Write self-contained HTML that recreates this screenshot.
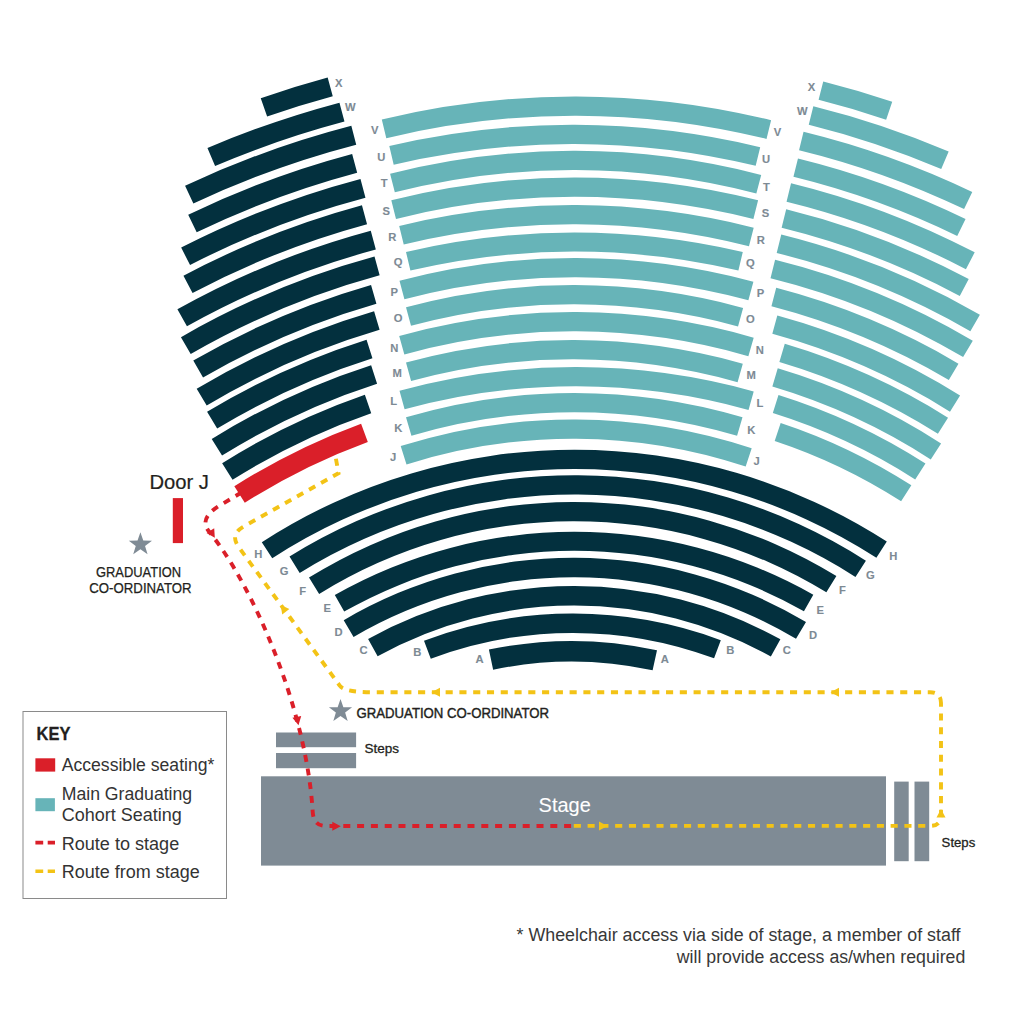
<!DOCTYPE html><html><head><meta charset="utf-8"><title>Seating plan</title><style>html,body{margin:0;padding:0;background:#fff;}svg{display:block;}text{font-family:"Liberation Sans",sans-serif;}</style></head><body><svg width="1024" height="1017" viewBox="0 0 1024 1017"><rect width="1024" height="1017" fill="#ffffff"/><path d="M381.80 119.50A821.35 821.35 0 0 1 771.10 120.30L766.51 138.94A802.15 802.15 0 0 0 386.31 138.16Z" fill="#67b4b8"/>
<path d="M389.30 146.00A799.68 799.68 0 0 1 760.20 147.20L755.69 165.86A780.48 780.48 0 0 0 393.69 164.69Z" fill="#67b4b8"/>
<path d="M390.10 173.70A744.34 744.34 0 0 1 761.20 174.90L756.35 193.48A725.14 725.14 0 0 0 394.83 192.31Z" fill="#67b4b8"/>
<path d="M391.30 200.30A749.02 749.02 0 0 1 758.10 200.30L753.40 218.92A729.82 729.82 0 0 0 396.00 218.92Z" fill="#67b4b8"/>
<path d="M399.20 225.90A734.97 734.97 0 0 1 753.70 227.70L748.98 246.31A715.77 715.77 0 0 0 403.74 244.56Z" fill="#67b4b8"/>
<path d="M406.00 251.90A736.88 736.88 0 0 1 742.80 251.90L738.41 270.59A717.68 717.68 0 0 0 410.39 270.59Z" fill="#67b4b8"/>
<path d="M399.50 280.80A685.05 685.05 0 0 1 753.40 281.70L748.39 300.24A665.85 665.85 0 0 0 404.41 299.36Z" fill="#67b4b8"/>
<path d="M406.00 307.30A642.54 642.54 0 0 1 743.10 307.90L738.03 326.42A623.34 623.34 0 0 0 411.00 325.84Z" fill="#67b4b8"/>
<path d="M399.20 335.90A648.50 648.50 0 0 1 753.70 337.70L748.36 356.14A629.30 629.30 0 0 0 404.35 354.40Z" fill="#67b4b8"/>
<path d="M406.00 362.50A627.94 627.94 0 0 1 742.80 363.70L737.59 382.18A608.74 608.74 0 0 0 411.08 381.01Z" fill="#67b4b8"/>
<path d="M399.50 390.80A662.78 662.78 0 0 1 753.70 391.40L748.54 409.89A643.58 643.58 0 0 0 404.60 409.31Z" fill="#67b4b8"/>
<path d="M406.00 417.30A594.61 594.61 0 0 1 742.50 417.30L737.07 435.72A575.41 575.41 0 0 0 411.43 435.72Z" fill="#67b4b8"/>
<path d="M400.70 446.10A569.96 569.96 0 0 1 751.70 448.30L745.67 466.53A550.76 550.76 0 0 0 406.50 464.40Z" fill="#67b4b8"/>
<path d="M261.80 542.20A575.69 575.69 0 0 1 886.80 541.60L876.39 557.73A556.49 556.49 0 0 0 272.24 558.31Z" fill="#03303e"/>
<path d="M289.50 556.60A539.47 539.47 0 0 1 865.90 560.70L855.47 576.94A520.17 520.17 0 0 0 299.69 572.99Z" fill="#03303e"/>
<path d="M309.00 577.60A502.24 502.24 0 0 1 836.40 576.00L826.37 592.37A483.04 483.04 0 0 0 319.13 593.91Z" fill="#03303e"/>
<path d="M334.80 595.10A485.12 485.12 0 0 1 813.30 594.70L803.94 611.24A466.12 466.12 0 0 0 344.18 611.62Z" fill="#03303e"/>
<path d="M343.70 620.20A453.71 453.71 0 0 1 806.00 622.00L796.00 638.74A434.21 434.21 0 0 0 353.57 637.02Z" fill="#03303e"/>
<path d="M368.10 639.00A425.67 425.67 0 0 1 780.40 639.30L770.85 656.53A405.97 405.97 0 0 0 377.63 656.24Z" fill="#03303e"/>
<path d="M424.00 640.70A423.52 423.52 0 0 1 720.80 640.20L714.07 658.29A404.22 404.22 0 0 0 430.79 658.77Z" fill="#03303e"/>
<path d="M488.90 649.60A401.11 401.11 0 0 1 657.00 650.20L652.61 670.33A380.51 380.51 0 0 0 493.14 669.76Z" fill="#03303e"/>
<path d="M260.74 98.16A1003.42 1003.42 0 0 1 327.66 77.51L332.75 96.34A983.92 983.92 0 0 0 267.13 116.58Z" fill="#03303e"/>
<path d="M207.45 148.01A976.08 976.08 0 0 1 339.46 102.65L344.46 121.50A956.58 956.58 0 0 0 215.09 165.95Z" fill="#03303e"/>
<path d="M185.07 185.81A950.73 950.73 0 0 1 351.33 125.75L356.22 144.63A931.23 931.23 0 0 0 193.37 203.46Z" fill="#03303e"/>
<path d="M188.21 214.82A923.20 923.20 0 0 1 352.15 154.00L357.17 172.84A903.70 903.70 0 0 0 196.69 232.37Z" fill="#03303e"/>
<path d="M181.16 247.60A896.98 896.98 0 0 1 360.48 178.91L365.47 197.76A877.48 877.48 0 0 0 190.05 264.96Z" fill="#03303e"/>
<path d="M183.45 275.65A871.04 871.04 0 0 1 361.95 205.37L367.05 224.20A851.54 851.54 0 0 0 192.55 292.90Z" fill="#03303e"/>
<path d="M177.41 309.36A844.30 844.30 0 0 1 370.77 230.69L375.83 249.52A824.80 824.80 0 0 0 186.94 326.37Z" fill="#03303e"/>
<path d="M180.96 337.13A818.41 818.41 0 0 1 374.51 256.50L379.64 275.32A798.91 798.91 0 0 0 190.70 354.02Z" fill="#03303e"/>
<path d="M193.28 360.58A791.93 791.93 0 0 1 371.05 284.96L376.43 303.71A772.43 772.43 0 0 0 203.04 377.46Z" fill="#03303e"/>
<path d="M196.69 388.72A765.95 765.95 0 0 1 374.09 311.14L379.59 329.85A746.45 746.45 0 0 0 206.70 405.46Z" fill="#03303e"/>
<path d="M207.08 411.81A740.81 740.81 0 0 1 366.57 339.71L372.44 358.31A721.31 721.31 0 0 0 217.16 428.50Z" fill="#03303e"/>
<path d="M211.73 439.03A715.17 715.17 0 0 1 371.13 365.17L377.09 383.74A695.67 695.67 0 0 0 222.04 455.58Z" fill="#03303e"/>
<path d="M222.14 463.29A689.08 689.08 0 0 1 364.86 394.75L371.22 413.19A669.58 669.58 0 0 0 232.55 479.78Z" fill="#03303e"/>
<path d="M234.33 486.31A663.11 663.11 0 0 1 361.09 423.66L367.82 441.97A643.61 643.61 0 0 0 244.79 502.77Z" fill="#da1f29"/>
<path d="M823.24 81.44A920.39 920.39 0 0 1 892.22 101.75L886.14 119.75A901.39 901.39 0 0 0 818.59 99.86Z" fill="#67b4b8"/>
<path d="M813.34 106.26A893.91 893.91 0 0 1 948.67 151.59L941.22 169.07A874.91 874.91 0 0 0 808.76 124.70Z" fill="#67b4b8"/>
<path d="M803.54 131.70A866.87 866.87 0 0 1 972.28 191.95L964.07 209.09A847.87 847.87 0 0 0 799.04 150.16Z" fill="#67b4b8"/>
<path d="M797.97 158.42A839.59 839.59 0 0 1 965.55 218.99L957.23 236.07A820.59 820.59 0 0 0 793.45 176.87Z" fill="#67b4b8"/>
<path d="M791.05 183.17A813.90 813.90 0 0 1 974.70 252.37L965.91 269.22A794.90 794.90 0 0 0 786.55 201.63Z" fill="#67b4b8"/>
<path d="M786.18 209.20A787.46 787.46 0 0 1 968.72 279.12L959.77 295.88A768.46 768.46 0 0 0 781.63 227.65Z" fill="#67b4b8"/>
<path d="M781.27 234.51A761.71 761.71 0 0 1 979.88 314.79L970.35 331.23A742.71 742.71 0 0 0 776.70 252.95Z" fill="#67b4b8"/>
<path d="M775.09 259.73A735.75 735.75 0 0 1 972.80 340.73L963.12 357.08A716.75 716.75 0 0 0 770.52 278.17Z" fill="#67b4b8"/>
<path d="M776.21 287.87A708.75 708.75 0 0 1 958.48 363.63L948.82 379.99A689.75 689.75 0 0 0 771.43 306.26Z" fill="#67b4b8"/>
<path d="M777.32 315.54A682.29 682.29 0 0 1 960.07 395.56L949.98 411.66A663.29 663.29 0 0 0 772.32 333.87Z" fill="#67b4b8"/>
<path d="M784.78 343.76A657.19 657.19 0 0 1 948.02 417.63L937.90 433.71A638.19 638.19 0 0 0 779.38 361.97Z" fill="#67b4b8"/>
<path d="M777.75 368.29A631.67 631.67 0 0 1 941.08 443.47L930.76 459.42A612.67 612.67 0 0 0 772.35 386.50Z" fill="#67b4b8"/>
<path d="M778.49 394.94A606.39 606.39 0 0 1 925.46 463.49L915.20 479.48A587.39 587.39 0 0 0 772.83 413.08Z" fill="#67b4b8"/>
<path d="M780.67 422.99A580.36 580.36 0 0 1 911.37 485.37L901.11 501.36A561.36 561.36 0 0 0 774.69 441.02Z" fill="#67b4b8"/>
<g font-family="Liberation Sans, sans-serif" font-weight="bold" font-size="10.2" fill="#7d8a94" stroke="#7d8a94" stroke-width="0.1" text-anchor="middle"><text transform="translate(374.7 133.6) scale(1.1 1)">V</text><text transform="translate(381.2 160.8) scale(1.1 1)">U</text><text transform="translate(384.2 187.0) scale(1.1 1)">T</text><text transform="translate(386.2 214.5) scale(1.1 1)">S</text><text transform="translate(392.2 240.9) scale(1.1 1)">R</text><text transform="translate(398.2 265.5) scale(1.1 1)">Q</text><text transform="translate(394.2 295.9) scale(1.1 1)">P</text><text transform="translate(398.2 321.9) scale(1.1 1)">O</text><text transform="translate(394.2 352.1) scale(1.1 1)">N</text><text transform="translate(397.2 377.2) scale(1.1 1)">M</text><text transform="translate(393.7 405.0) scale(1.1 1)">L</text><text transform="translate(398.2 431.9) scale(1.1 1)">K</text><text transform="translate(393.1 461.2) scale(1.1 1)">J</text><text transform="translate(777.5 135.6) scale(1.1 1)">V</text><text transform="translate(766.0 162.8) scale(1.1 1)">U</text><text transform="translate(766.5 190.9) scale(1.1 1)">T</text><text transform="translate(765.5 216.8) scale(1.1 1)">S</text><text transform="translate(760.8 243.9) scale(1.1 1)">R</text><text transform="translate(750.4 267.2) scale(1.1 1)">Q</text><text transform="translate(760.5 296.7) scale(1.1 1)">P</text><text transform="translate(750.3 322.7) scale(1.1 1)">O</text><text transform="translate(759.8 354.0) scale(1.1 1)">N</text><text transform="translate(751.2 379.0) scale(1.1 1)">M</text><text transform="translate(760.0 407.1) scale(1.1 1)">L</text><text transform="translate(751.2 433.9) scale(1.1 1)">K</text><text transform="translate(756.6 464.8) scale(1.1 1)">J</text><text transform="translate(338.7 86.5) scale(1.1 1)">X</text><text transform="translate(350.2 110.7) scale(1.1 1)">W</text><text transform="translate(811.5 90.6) scale(1.1 1)">X</text><text transform="translate(802.3 114.8) scale(1.1 1)">W</text><text transform="translate(258.2 557.8) scale(1.1 1)">H</text><text transform="translate(284.2 574.9) scale(1.1 1)">G</text><text transform="translate(302.8 594.9) scale(1.1 1)">F</text><text transform="translate(327.2 611.8) scale(1.1 1)">E</text><text transform="translate(338.6 636.0) scale(1.1 1)">D</text><text transform="translate(363.6 653.9) scale(1.1 1)">C</text><text transform="translate(417.4 655.7) scale(1.1 1)">B</text><text transform="translate(479.5 662.7) scale(1.1 1)">A</text><text transform="translate(664.8 663.1) scale(1.1 1)">A</text><text transform="translate(730.2 654.1) scale(1.1 1)">B</text><text transform="translate(786.7 654.1) scale(1.1 1)">C</text><text transform="translate(813.0 638.8) scale(1.1 1)">D</text><text transform="translate(820.2 613.8) scale(1.1 1)">E</text><text transform="translate(842.4 594.0) scale(1.1 1)">F</text><text transform="translate(870.3 579.0) scale(1.1 1)">G</text><text transform="translate(893.2 560.1) scale(1.1 1)">H</text></g>
<rect x="261" y="776.3" width="625" height="89.3" fill="#7f8b95"/>
<rect x="276" y="732.5" width="80.1" height="14.7" fill="#7f8b95"/>
<rect x="276" y="753" width="80.1" height="15.2" fill="#7f8b95"/>
<rect x="894.2" y="781.6" width="14.5" height="79.6" fill="#7f8b95"/>
<rect x="914.5" y="781.6" width="14.7" height="79.6" fill="#7f8b95"/>
<rect x="172.8" y="498.1" width="10.2" height="45" fill="#da1f29"/>
<polygon points="140.40,532.20 143.27,540.45 152.00,540.63 145.04,545.91 147.57,554.27 140.40,549.28 133.23,554.27 135.76,545.91 128.80,540.63 137.53,540.45" fill="#7f8b95"/>
<polygon points="340.50,698.90 343.37,707.15 352.10,707.33 345.14,712.61 347.67,720.97 340.50,715.98 333.33,720.97 335.86,712.61 328.90,707.33 337.63,707.15" fill="#7f8b95"/>
<path d="M571.1,826 L326,826 Q313.6,826 312.7,811.9 C306.6,708.6 252.3,584.3 209,531.5 Q198.2,518.4 220,505.3 L241,492.8" stroke="#da1f29" stroke-width="3.9" stroke-dasharray="7 6.8" fill="none"/>
<path d="M573,825.9 L930,825.9 Q941,825.9 941,815 L941,703" stroke="#f3c316" stroke-width="3.9" stroke-dasharray="7.1 6.675" stroke-dashoffset="-0.8" fill="none"/>
<path d="M941,703 Q941,692.2 930,692.2 L372,692.2 Q344.5,692.2 339.7,685.6 L238.8,547.3 Q229.3,534.3 244,526.3 L338.5,473.2 L335.8,458" stroke="#f3c316" stroke-width="3.9" stroke-dasharray="7.1 6.675" stroke-dashoffset="1.05" fill="none"/>
<polygon points="214.8,537.8 206.5,532.9 214.2,528.2" fill="#da1f29"/>
<polygon points="298.5,725.2 292.4,717.7 301.2,716.0" fill="#da1f29"/>
<polygon points="340.8,826.2 332.3,830.7 332.3,821.7" fill="#da1f29"/>
<polygon points="607.5,825.9 599.0,830.4 599.0,821.4" fill="#f3c316"/>
<polygon points="941.0,809.0 945.5,817.5 936.5,817.5" fill="#f3c316"/>
<polygon points="830.5,692.2 839.0,687.7 839.0,696.7" fill="#f3c316"/>
<polygon points="431.5,692.2 440.0,687.7 440.0,696.7" fill="#f3c316"/>
<polygon points="280.7,605.0 289.4,609.1 282.2,614.5" fill="#f3c316"/>
<g font-family="Liberation Sans, sans-serif"><text x="149.4" y="488.5" font-size="20.4" font-weight="normal" fill="#231f20" text-anchor="start" textLength="59.6" lengthAdjust="spacingAndGlyphs" stroke="#231f20" stroke-width="0.2">Door J</text><text x="96" y="576.8" font-size="13.8" font-weight="normal" fill="#231f20" text-anchor="start" textLength="85.1" lengthAdjust="spacingAndGlyphs" stroke="#231f20" stroke-width="0.25">GRADUATION</text><text x="89.3" y="592.8" font-size="13.8" font-weight="normal" fill="#231f20" text-anchor="start" textLength="102.3" lengthAdjust="spacingAndGlyphs" stroke="#231f20" stroke-width="0.25">CO-ORDINATOR</text><text x="356.5" y="717.7" font-size="13.8" font-weight="normal" fill="#231f20" text-anchor="start" textLength="192.5" lengthAdjust="spacingAndGlyphs" stroke="#231f20" stroke-width="0.4">GRADUATION CO-ORDINATOR</text><text x="364.5" y="752.6" font-size="13.6" font-weight="normal" fill="#231f20" text-anchor="start" textLength="34.6" lengthAdjust="spacingAndGlyphs" stroke="#231f20" stroke-width="0.3">Steps</text><text x="941.6" y="847.1" font-size="13.6" font-weight="normal" fill="#231f20" text-anchor="start" textLength="33.7" lengthAdjust="spacingAndGlyphs" stroke="#231f20" stroke-width="0.3">Steps</text><text x="538.6" y="811.8" font-size="20.6" font-weight="normal" fill="#ffffff" text-anchor="start" textLength="52.2" lengthAdjust="spacingAndGlyphs" stroke="#ffffff" stroke-width="0.1">Stage</text><text x="36.6" y="740" font-size="18.6" font-weight="bold" fill="#231f20" text-anchor="start" textLength="33.9" lengthAdjust="spacingAndGlyphs" stroke="#231f20" stroke-width="0.3">KEY</text><text x="61.7" y="770.8" font-size="19.1" font-weight="normal" fill="#333333" text-anchor="start" textLength="152.7" lengthAdjust="spacingAndGlyphs">Accessible seating*</text><text x="61.7" y="800" font-size="19.1" font-weight="normal" fill="#333333" text-anchor="start" textLength="130.5" lengthAdjust="spacingAndGlyphs">Main Graduating</text><text x="61.7" y="821.3" font-size="19.1" font-weight="normal" fill="#333333" text-anchor="start" textLength="120" lengthAdjust="spacingAndGlyphs">Cohort Seating</text><text x="61.7" y="850" font-size="19.1" font-weight="normal" fill="#333333" text-anchor="start" textLength="117.5" lengthAdjust="spacingAndGlyphs">Route to stage</text><text x="61.7" y="877.5" font-size="19.1" font-weight="normal" fill="#333333" text-anchor="start" textLength="138" lengthAdjust="spacingAndGlyphs">Route from stage</text><text x="516.5" y="940.8" font-size="18.8" font-weight="normal" fill="#383838" text-anchor="start" textLength="444" lengthAdjust="spacingAndGlyphs">* Wheelchair access via side of stage, a member of staff</text><text x="676.8" y="963.3" font-size="18.8" font-weight="normal" fill="#383838" text-anchor="start" textLength="288.5" lengthAdjust="spacingAndGlyphs">will provide access as/when required</text></g>
<rect x="23" y="711.5" width="203.5" height="187" fill="none" stroke="#8a8a8a" stroke-width="1"/>
<rect x="35.4" y="758.3" width="19.8" height="13.3" fill="#da1f29"/>
<rect x="35.4" y="798.2" width="19.5" height="13" fill="#67b4b8"/>
<line x1="35.4" y1="842.6" x2="55" y2="842.6" stroke="#da1f29" stroke-width="3.6" stroke-dasharray="7.8 4.5"/>
<line x1="35.4" y1="871.2" x2="55" y2="871.2" stroke="#f3c316" stroke-width="3.6" stroke-dasharray="7.8 4.5"/></svg></body></html>
